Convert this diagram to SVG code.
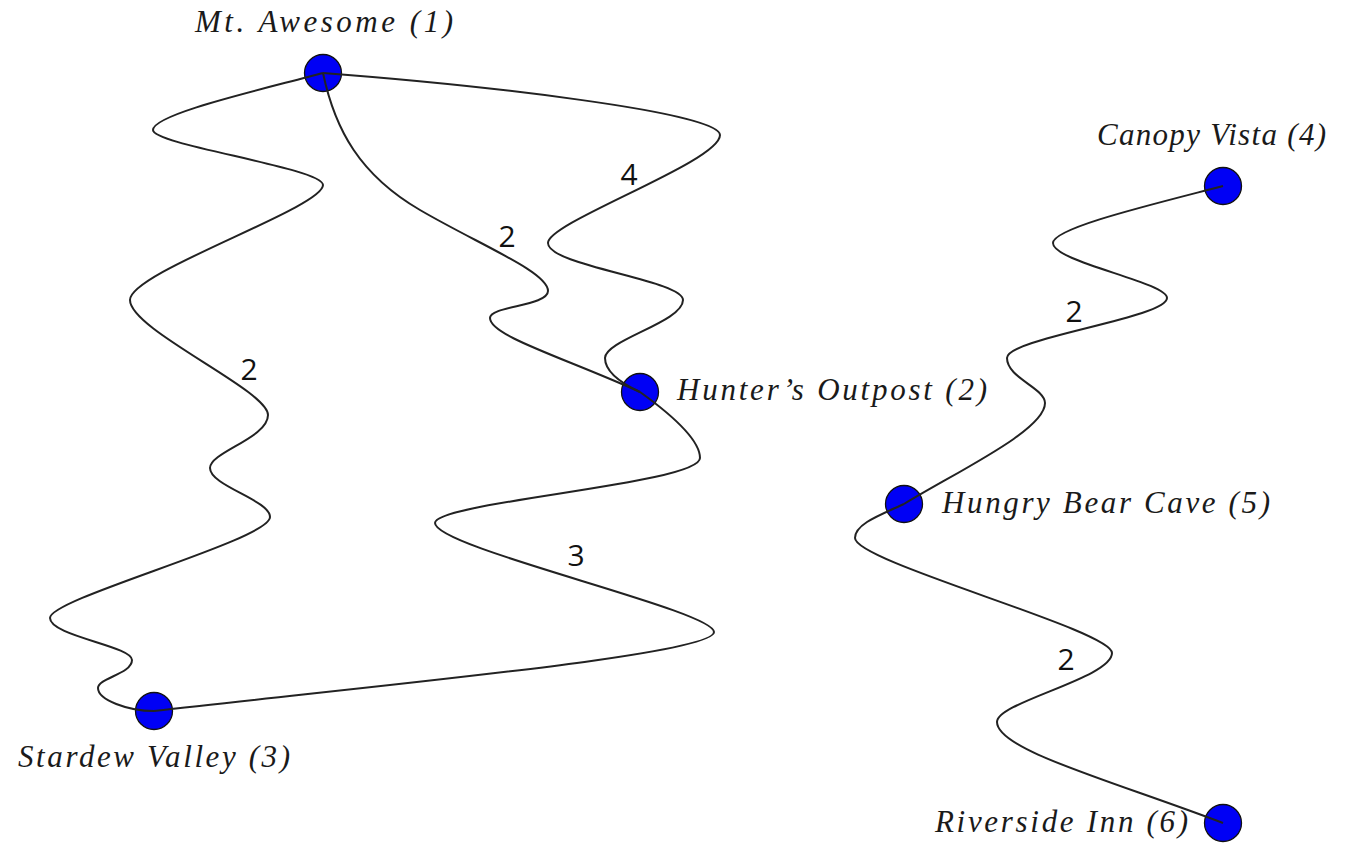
<svg xmlns="http://www.w3.org/2000/svg" width="1366" height="846" viewBox="0 0 1366 846">
<style>
.bg{fill:#ffffff}
.node circle{fill:#0000f5;stroke:#111;stroke-width:1.3}
.node text{font-family:"Liberation Serif","DejaVu Serif",serif;font-style:italic;font-size:31px;fill:#1a1a1a}
.edge{fill:none;stroke:#222;stroke-width:2}
.wt{font-family:"Open Sans","Noto Sans",sans-serif;font-size:30px;fill:#111;text-anchor:middle}
</style>
<rect class="bg" x="0" y="0" width="1366" height="846"/>
<g id="nodes">
<g id="n1" class="node"><circle cx="323" cy="73" r="18.5"/><text x="195" y="32" textLength="258" lengthAdjust="spacing">Mt. Awesome (1)</text></g>
<g id="n2" class="node"><circle cx="640" cy="392" r="18.5"/><text x="677" y="400" textLength="310" lengthAdjust="spacing">Hunter’s Outpost (2)</text></g>
<g id="n3" class="node"><circle cx="154" cy="711" r="18.5"/><text x="18" y="767" textLength="272" lengthAdjust="spacing">Stardew Valley (3)</text></g>
<g id="n4" class="node"><circle cx="1223" cy="186" r="18.5"/><text x="1097" y="145" textLength="229" lengthAdjust="spacing">Canopy Vista (4)</text></g>
<g id="n5" class="node"><circle cx="904" cy="504" r="18.5"/><text x="942" y="513" textLength="328" lengthAdjust="spacing">Hungry Bear Cave (5)</text></g>
<g id="n6" class="node"><circle cx="1223" cy="823" r="18.5"/><text x="935" y="832" textLength="253" lengthAdjust="spacing">Riverside Inn (6)</text></g>
</g>
<g id="connectors">
<path id="e13" class="edge" d="M 323 73 C 260 90, 153 114, 153 130 C 153 145, 323 168, 323 185 C 323 208, 130 272, 130 300 C 130 330, 268 390, 268 415 C 268 438, 210 452, 210 468 C 210 486, 270 500, 270 517 C 270 540, 50 598, 50 618 C 50 636, 132 646, 132 660 C 132 674, 98 678, 98 688 C 98 700, 128 711, 154 711"/>
<path id="e12a" class="edge" d="M 323 73 C 335 130, 360 175, 420 210 C 480 245, 548 272, 548 291 C 548 306, 490 306, 490 318 C 490 336, 565 358, 640 392"/>
<path id="e12b" class="edge" d="M 323 73 C 480 85, 720 112, 720 135 C 720 162, 548 222, 548 243 C 548 266, 683 280, 683 300 C 683 322, 605 340, 605 358 C 605 374, 625 385, 640 392"/>
<path id="e23" class="edge" d="M 640 392 C 672 415, 700 440, 700 458 C 700 484, 435 502, 435 523 C 435 548, 714 610, 714 632 C 714 655, 380 685, 154 711"/>
<path id="e45" class="edge" d="M 1223 186 C 1150 205, 1053 228, 1053 243 C 1053 262, 1167 282, 1167 298 C 1167 318, 1007 338, 1007 358 C 1007 378, 1045 388, 1045 403 C 1045 430, 960 470, 904 504"/>
<path id="e56" class="edge" d="M 904 504 C 880 515, 855 524, 855 538 C 855 562, 1112 630, 1112 653 C 1112 678, 997 702, 997 722 C 997 750, 1110 780, 1223 823"/>
<text class="wt" x="249" y="380">2</text>
<text class="wt" x="629" y="185">4</text>
<text class="wt" x="507" y="247">2</text>
<text class="wt" x="576" y="566">3</text>
<text class="wt" x="1074" y="322">2</text>
<text class="wt" x="1066" y="670">2</text>
</g>
</svg>
